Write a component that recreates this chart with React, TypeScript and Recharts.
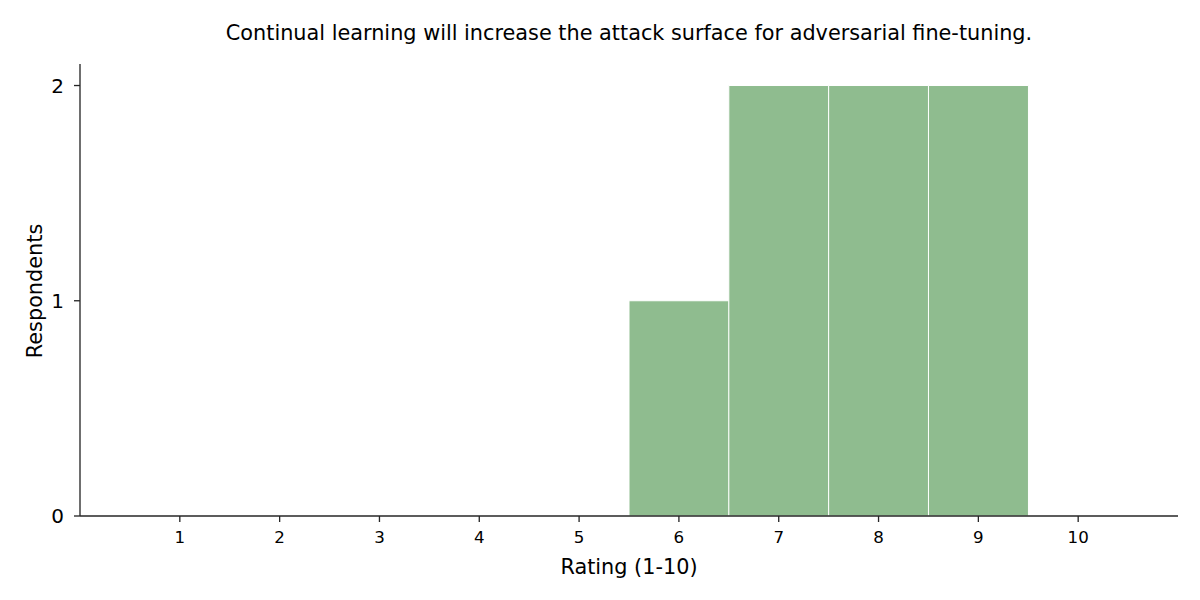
import React from 'react';
import { BarChart, Bar, XAxis, YAxis, Label } from 'recharts';

const ratings = [1, 2, 3, 4, 5, 6, 7, 8, 9, 10];
const respondents = [0, 0, 0, 0, 0, 1, 2, 2, 2, 0];
const yTicks = [0, 1, 2];

const TITLE = 'Continual learning will increase the attack surface for adversarial fine-tuning.';
const X_LABEL = 'Rating (1-10)';
const Y_LABEL = 'Respondents';

const data = ratings.map((r, i) => ({ rating: r, count: respondents[i] }));

const FONT = '"DejaVu Sans", sans-serif';
const AXIS = '#262626';
const LABEL_SIZE = 20.8;

export default function App() {
  const width = 1200;
  const height = 600;
  const margin = { top: 64, right: 22, bottom: 0, left: 0 };
  const plotW = width - 80 - margin.right;
  const pad = plotW / 22;
  return (
    <div style={{ position: 'absolute', left: 0, top: 0, width, height, background: '#fff' }}>
      <BarChart width={width} height={height} data={data} margin={margin} barCategoryGap={0} barGap={0}>
        <text x={629} y={33} textAnchor="middle" dominantBaseline="central" fontFamily={FONT} fontSize={LABEL_SIZE} fill="#000">
          {TITLE}
        </text>
        <XAxis
          dataKey="rating"
          type="category"
          padding={{ left: pad, right: pad }}
          tickSize={6}
          tickMargin={9}
          axisLine={{ stroke: AXIS, strokeWidth: 1.33 }}
          tickLine={{ stroke: AXIS, strokeWidth: 1.33 }}
          tick={{ fill: '#000', fontSize: 16.67, fontFamily: FONT }}
          height={84}
        >
          <Label
            content={() => (
              <text x={629} y={567} textAnchor="middle" dominantBaseline="central" fontFamily={FONT} fontSize={LABEL_SIZE} fill="#000">
                {X_LABEL}
              </text>
            )}
          />
        </XAxis>
        <YAxis
          type="number"
          domain={[0, 2.1]}
          ticks={yTicks}
          allowDataOverflow
          width={80}
          tickSize={6}
          tickMargin={10}
          axisLine={{ stroke: AXIS, strokeWidth: 1.33 }}
          tickLine={{ stroke: AXIS, strokeWidth: 1.33 }}
          tick={{ fill: '#000', fontSize: 20, fontFamily: FONT }}
        >
          <Label
            content={() => (
              <text
                x={35}
                y={291}
                transform="rotate(-90, 35, 291)"
                textAnchor="middle"
                dominantBaseline="central"
                fontFamily={FONT}
                fontSize={LABEL_SIZE}
                fill="#000"
              >
                {Y_LABEL}
              </text>
            )}
          />
        </YAxis>
        <Bar dataKey="count" fill="#8fbc8f" stroke="#ffffff" strokeWidth={1} isAnimationActive={false} />
      </BarChart>
    </div>
  );
}
